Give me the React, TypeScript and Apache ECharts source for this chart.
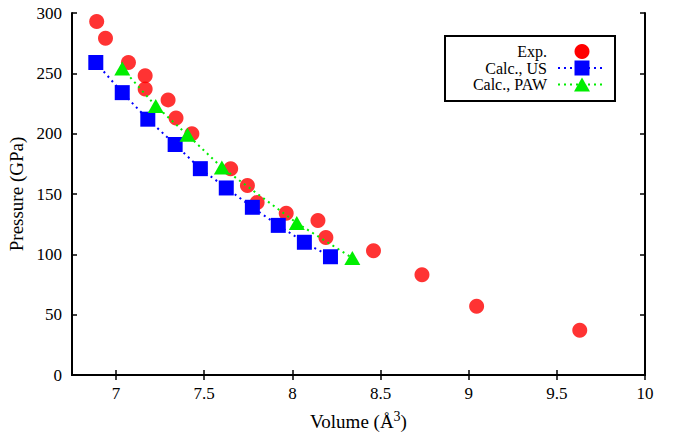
import React, { useEffect, useRef } from "react";
import * as echarts from "echarts";

const xTicks = [7, 7.5, 8, 8.5, 9, 9.5, 10];

const expVolume = [6.89, 6.94, 7.07, 7.165, 7.165, 7.295, 7.34, 7.43, 7.65, 7.745, 7.8, 7.965, 8.145, 8.19, 8.46, 8.735, 9.045, 9.63];
const expPressure = [293, 279, 259, 248, 237, 228, 213, 200, 171, 157, 143, 134, 128, 114, 103, 83, 57, 37];

const usVolume = [6.885, 7.035, 7.18, 7.335, 7.478, 7.625, 7.773, 7.92, 8.068, 8.216];
const usPressure = [259, 234, 212, 191, 171, 155, 139, 124, 110, 98];

const pawVolume = [7.035, 7.225, 7.405, 7.6, 8.025, 8.34];
const pawPressure = [254, 223, 199, 172, 126, 97];

const legendLabels = ["Exp.", "Calc., US", "Calc., PAW"];

const FONT = "'Liberation Serif', 'DejaVu Serif', serif";

function zip(xs: number[], ys: number[]) {
  return xs.map((x, i) => [x, ys[i]]);
}

export default function App() {
  const ref = useRef<HTMLDivElement>(null);
  useEffect(() => {
    if (!ref.current) return;
    const chart = echarts.init(ref.current, undefined, { renderer: "svg" });
    const axisLine = { show: true, lineStyle: { color: "#000", width: 2 } };
    const tick = { show: true, inside: true, length: 5, lineStyle: { color: "#000", width: 1.5 } };
    const rowY = [51.5, 68, 84.5];
    chart.setOption({
      animation: false,
      backgroundColor: "#fff",
      textStyle: { fontFamily: FONT },
      grid: { left: 72, right: 28, top: 13, bottom: 59, containLabel: false, outerBoundsMode: "none" },
      xAxis: [
        {
          type: "value",
          min: 6.75,
          max: 10,
          position: "bottom",
          axisLine,
          axisTick: { ...tick, customValues: xTicks },
          splitLine: { show: false },
          axisLabel: {
            customValues: xTicks,
            color: "#000",
            fontSize: 17,
            fontFamily: FONT,
            margin: 10,
            showMaxLabel: true,
            formatter: (v: number) => String(v),
          },
          name: "{a|Volume (Å}{s|3}{a|)}",
          nameLocation: "middle",
          nameGap: 34,
          nameTextStyle: {
            rich: {
              a: { fontSize: 19, fontFamily: FONT, color: "#000", verticalAlign: "bottom" },
              s: { fontSize: 14, fontFamily: FONT, color: "#000", verticalAlign: "top", padding: [0, 0, 8, 0] },
            },
          },
        },
        {
          type: "value",
          min: 6.75,
          max: 10,
          position: "top",
          axisLine,
          axisTick: { ...tick, customValues: xTicks },
          splitLine: { show: false },
          axisLabel: { show: false },
        },
      ],
      yAxis: [
        {
          type: "value",
          min: 0,
          max: 300,
          interval: 50,
          position: "left",
          axisLine,
          axisTick: tick,
          splitLine: { show: false },
          axisLabel: { color: "#000", fontSize: 17, fontFamily: FONT, margin: 10 },
          name: "Pressure (GPa)",
          nameLocation: "middle",
          nameGap: 38,
          nameTextStyle: { fontSize: 19, fontFamily: FONT, color: "#000" },
        },
        {
          type: "value",
          min: 0,
          max: 300,
          interval: 50,
          position: "right",
          axisLine,
          axisTick: tick,
          splitLine: { show: false },
          axisLabel: { show: false },
        },
      ],
      series: [
        {
          name: legendLabels[0],
          type: "scatter",
          data: zip(expVolume, expPressure),
          symbol: "circle",
          symbolSize: 15,
          itemStyle: { color: "#ff0000" },
        },
        {
          name: legendLabels[1],
          type: "line",
          data: zip(usVolume, usPressure),
          symbol: "rect",
          symbolSize: 15,
          showAllSymbol: true,
          itemStyle: { color: "#0000ff" },
          lineStyle: { color: "#0000ff", width: 2, type: [2, 4] },
        },
        {
          name: legendLabels[2],
          type: "line",
          data: zip(pawVolume, pawPressure),
          symbol: "triangle",
          symbolSize: [16, 14],
          showAllSymbol: true,
          itemStyle: { color: "#00ee00" },
          lineStyle: { color: "#00ee00", width: 2, type: [2, 4] },
        },
      ],
      graphic: [
        {
          type: "rect",
          shape: { x: 445, y: 36, width: 170, height: 65 },
          style: { fill: "#fff", stroke: "#000", lineWidth: 2 },
          z: 10,
        },
        ...legendLabels.map((t, i) => ({
          type: "text",
          x: 547,
          y: rowY[i],
          style: { text: t, fill: "#000", font: `16px ${FONT}`, textAlign: "right", textVerticalAlign: "middle" },
          z: 11,
        })),
        {
          type: "line",
          shape: { x1: 558, y1: rowY[1], x2: 604, y2: rowY[1] },
          style: { stroke: "#0000ff", lineWidth: 2, lineDash: [2, 4] },
          z: 11,
        },
        {
          type: "line",
          shape: { x1: 558, y1: rowY[2], x2: 604, y2: rowY[2] },
          style: { stroke: "#00ee00", lineWidth: 2, lineDash: [2, 4] },
          z: 11,
        },
        {
          type: "circle",
          shape: { cx: 582, cy: rowY[0], r: 7.5 },
          style: { fill: "#ff0000" },
          z: 12,
        },
        {
          type: "rect",
          shape: { x: 574.5, y: rowY[1] - 7.5, width: 15, height: 15 },
          style: { fill: "#0000ff" },
          z: 12,
        },
        {
          type: "polygon",
          shape: { points: [[582, rowY[2] - 7], [590, rowY[2] + 7], [574, rowY[2] + 7]] },
          style: { fill: "#00ee00" },
          z: 12,
        },
      ],
    });
    return () => chart.dispose();
  }, []);
  return <div ref={ref} style={{ width: 673, height: 434, position: "absolute", left: 0, top: 0 }} />;
}
